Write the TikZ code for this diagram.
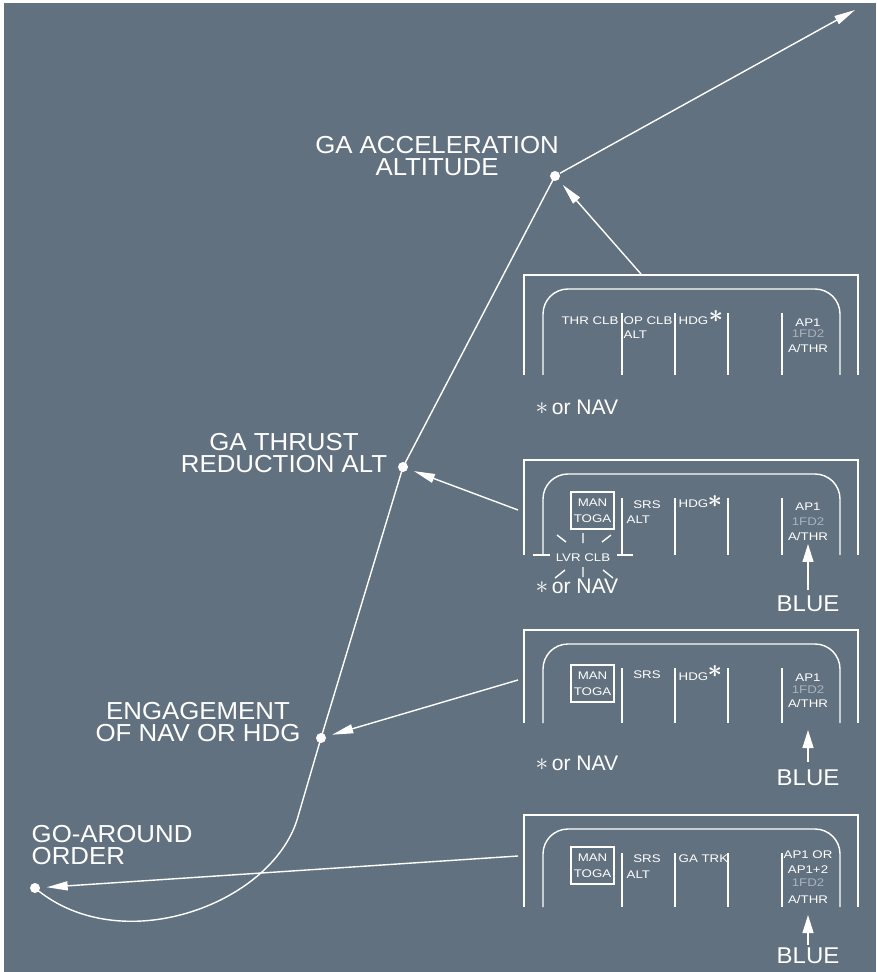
\documentclass[tikz,border=0pt]{standalone}
\usepackage{fontspec}
\setmainfont{Liberation Sans}
\newfontfamily\lblfont[FakeStretch=1.05]{Liberation Sans}
\newfontfamily\fmafont[FakeStretch=1.2]{Liberation Sans}
\usetikzlibrary{arrows.meta}
\definecolor{slate}{RGB}{98,113,127}
\definecolor{dimfd}{RGB}{168,180,192}

\begin{document}
\begin{tikzpicture}[
  x=0.02cm, y=-0.02cm,
  color=white,
  line width=0.8pt,
  dot/.style={circle, fill=white, inner sep=0pt, minimum size=0.2cm},
  lbl/.style={font=\lblfont\fontsize{14}{13}\selectfont, align=center, inner sep=0pt},
  fma/.style={font=\fmafont\fontsize{6.3}{9}\selectfont, inner sep=0pt, anchor=base},
  fmabox/.style={fma, draw, line width=0.7pt, anchor=center, align=center,
    minimum width=0.86cm, minimum height=0.74cm},
  hdgstar/.style={font=\fontsize{15}{15}\selectfont\boldmath, inner sep=0pt},
  note/.style={font=\fontsize{12}{12}\selectfont, inner sep=0pt, anchor=base west},
  modetag/.style={font=\lblfont\fontsize{13}{13}\selectfont, inner sep=0pt, anchor=base},
  ptr/.style={-{Triangle[length=0.42cm,width=0.18cm]}},
  upptr/.style={-{Triangle[length=0.36cm,width=0.22cm]}},
]
% background
\fill[white] (0,0) rectangle (876,972);
\fill[slate] (4,3) rectangle (876,972);
\useasboundingbox (0,0) rectangle (876,972);

% flight path points
\node[dot] (acc) at (555,176) {};
\node[dot] (thr) at (403,467) {};
\node[dot] (eng) at (321,738) {};
\node[dot] (go) at (35,888) {};
\coordinate (bend) at (297,820);
\coordinate (out) at (855,10);

\draw (go.center) .. controls (120,960) and (270,905) .. (bend)
  -- (eng.center) -- (thr.center) -- (acc.center);
\draw[ptr] (acc) -- (out);

\node[lbl] (acclbl) at (437,156) {GA ACCELERATION\\ALTITUDE};
\node[lbl] (thrlbl) at (284,453) {GA THRUST\\REDUCTION ALT};
\node[lbl] (englbl) at (198,722) {ENGAGEMENT\\OF NAV OR HDG};
\node[lbl, anchor=west, align=left] (golbl) at (31,845) {GO-AROUND\\ORDER};

% FMA frames
\foreach \T/\B in {275/375, 460/555, 630/723, 815/907} {
  \draw (524,\B) -- (524,\T) -- (858,\T) -- (858,\B);
  \draw[rounded corners=0.5cm] (543,\B) -- (543,\T+14) -- (840,\T+14) -- (840,\B);
  \foreach \X in {622, 675, 728, 782}
    \draw (\X,\T+38) -- (\X,\B);
}

% panel 1
\node[fma] (thrclb1) at (590,325) {THR CLB};
\node[fma, anchor=base west] (opclb1) at (623,325) {OP CLB};
\node[fma, anchor=base west] (alt1) at (623,339) {ALT};
\node[fma, anchor=base west] (hdg1) at (678,325) {HDG};
\node[hdgstar] (star1) at (716,317) {$\ast$};
\node[fma] (ap1) at (808,327) {AP1};
\node[fma, dimfd] (fd1) at (808,338) {1FD2};
\node[fma] (athr1) at (808,353) {A/THR};
\node[note] (nav1) at (535,415) {{\fontsize{15}{15}\selectfont$\ast$}\,or NAV};

% panel 2
\node[fmabox] (toga2) at (592.5,510.5) {MAN\\TOGA};
\node[fma] (srs2) at (647,508) {SRS};
\node[fma, anchor=base west] (alt2) at (626,523) {ALT};
\node[fma, anchor=base west] (hdg2) at (678,507) {HDG};
\node[hdgstar] (star2) at (715,502) {$\ast$};
\node[fma] (ap2) at (808,510) {AP1};
\node[fma, dimfd] (fd2) at (808,525) {1FD2};
\node[fma] (athr2) at (808,540) {A/THR};
\node[fma] (lvr2) at (583,561) {LVR CLB};
\draw (533,555) -- (550,555);
\draw (617,555) -- (633,555);
\draw (557,535) -- (566,542) (583,533) -- (583,543) (602,542) -- (611,535);
\draw (555,578) -- (565,570) (583,567) -- (583,577) (603,570) -- (613,578);
\node[note] (nav2) at (535,593) {{\fontsize{15}{15}\selectfont$\ast$}\,or NAV};
\node[modetag] (blue2) at (808,611) {BLUE};
\coordinate (fd2tip) at (808,544);
\draw[upptr] (808,590) -- (fd2tip);

% panel 3
\node[fmabox] (toga3) at (592.5,683.5) {MAN\\TOGA};
\node[fma] (srs3) at (647,678) {SRS};
\node[fma, anchor=base west] (hdg3) at (678,680) {HDG};
\node[hdgstar] (star3) at (715,672) {$\ast$};
\node[fma] (ap3) at (808,681) {AP1};
\node[fma, dimfd] (fd3) at (808,693) {1FD2};
\node[fma] (athr3) at (808,707) {A/THR};
\node[note] (nav3) at (535,770) {{\fontsize{15}{15}\selectfont$\ast$}\,or NAV};
\node[modetag] (blue3) at (808,785) {BLUE};
\coordinate (fd3tip) at (808,730);
\draw[upptr] (808,762) -- (fd3tip);

% panel 4
\node[fmabox] (toga4) at (592.5,865.5) {MAN\\TOGA};
\node[fma] (srs4) at (647,862) {SRS};
\node[fma, anchor=base west] (alt4) at (626,878) {ALT};
\node[fma, anchor=base west] (gatrk4) at (678,862) {GA TRK};
\node[fma] (ap4) at (808,858) {AP1 OR};
\node[fma] (ap4b) at (808,873) {AP1+2};
\node[fma, dimfd] (fd4) at (808,886) {1FD2};
\node[fma] (athr4) at (808,903) {A/THR};
\node[modetag] (blue4) at (808,963) {BLUE};
\coordinate (fd4tip) at (808,915);
\draw[upptr] (808,945) -- (fd4tip);

% panels to flight path
\coordinate (p1) at (641,274);
\coordinate (p2) at (518,510);
\coordinate (p3) at (518,680);
\coordinate (p4) at (518,856);
\draw[ptr, shorten >=0.12cm] (p1) -- (acc);
\draw[ptr, shorten >=0.12cm] (p2) -- (thr);
\draw[ptr, shorten >=0.12cm] (p3) -- (eng);
\draw[ptr, shorten >=0.12cm] (p4) -- (go);
\end{tikzpicture}
\end{document}
